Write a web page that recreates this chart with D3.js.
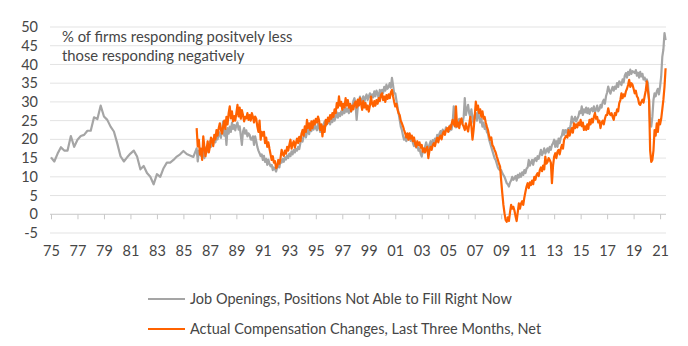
<!DOCTYPE html>
<html>
<head>
<meta charset="utf-8">
<script src="https://cdn.jsdelivr.net/npm/d3@7"></script>
<style>
  body { margin: 0; background: #fff; }
  svg text { font-family: Lato, "Noto Sans", sans-serif; fill: #464646; }
</style>
</head>
<body>
<div id="chart"></div>
<script>
// gray series, quarterly 1975-1985 (Q1..Q4 per row)
var jobOpeningsQuarterly = [
  15.2, 14.1, 16.2, 17.9,
  17.0, 17.0, 20.9, 18.0,
  19.9, 20.9, 21.2, 22.3,
  22.3, 25.9, 25.4, 29.0,
  26.1, 25.2, 23.4, 22.1,
  19.0, 15.5, 14.1, 15.2,
  16.2, 17.0, 15.4, 12.0,
  12.9, 11.0, 10.0, 8.0,
  10.7, 10.0, 12.3, 13.8,
  13.8, 14.5, 15.4, 16.0,
  16.9, 16.1, 15.7, 15.3
];

// gray series, monthly from Jan 1986 (one row per year)
var jobOpeningsMonthly = [
  17.6, 14.1, 17.0, 16.0, 15.6, 17.5, 16.2, 15.0, 17.8, 16.5, 18.4, 17.2, // 86
  19.5, 18.0, 19.9, 18.6, 20.5, 19.2, 21.2, 20.0, 22.0, 21.2, 20.4, 22.5, // 87
  24.8, 21.0, 22.6, 18.5, 23.0, 21.5, 23.4, 22.0, 24.5, 22.8, 23.8, 22.4, // 88
  23.8, 24.5, 22.6, 23.5, 21.0, 18.5, 22.1, 23.0, 21.5, 22.4, 20.8, 21.6, // 89
  21.2, 20.0, 19.9, 20.8, 18.5, 20.8, 19.5, 18.0, 17.0, 16.3, 15.5, 16.0, // 90
  14.5, 15.6, 14.0, 14.8, 13.2, 14.6, 13.5, 12.8, 13.2, 11.8, 12.5, 12.0, // 91
  11.4, 12.5, 13.2, 12.5, 14.5, 13.8, 14.8, 14.0, 15.2, 14.6, 15.7, 15.0, // 92
  16.2, 15.5, 16.8, 16.0, 17.2, 16.5, 17.5, 17.0, 18.0, 17.4, 19.0, 20.2, // 93
  19.4, 21.0, 22.1, 20.5, 21.8, 22.6, 21.4, 23.0, 22.2, 23.5, 22.6, 24.0, // 94
  23.0, 22.4, 24.2, 23.2, 22.0, 23.8, 22.5, 24.0, 24.8, 23.6, 25.0, 24.3, // 95
  25.2, 24.0, 25.8, 24.6, 26.5, 25.0, 26.0, 27.2, 25.8, 27.0, 26.2, 27.5, // 96
  26.6, 28.0, 27.0, 28.5, 27.4, 28.2, 27.0, 29.0, 27.4, 28.6, 30.2, 31.0, // 97
  29.2, 25.2, 28.5, 30.0, 31.4, 29.5, 30.6, 31.5, 30.0, 31.2, 32.0, 30.5, // 98
  31.5, 32.3, 30.8, 32.0, 31.2, 32.8, 31.5, 33.0, 32.2, 31.0, 33.2, 32.0, // 99
  33.2, 32.4, 34.0, 33.0, 34.6, 33.5, 34.0, 35.0, 33.8, 36.4, 34.5, 32.3, // 00
  32.3, 30.5, 28.8, 27.0, 25.2, 23.4, 22.5, 21.0, 19.9, 20.5, 19.5, 20.8, // 01
  20.0, 21.2, 19.6, 20.8, 19.0, 18.2, 19.5, 17.8, 18.6, 17.0, 17.5, 16.2, // 02
  15.4, 17.2, 16.5, 18.0, 19.2, 18.0, 17.5, 18.6, 19.5, 18.2, 19.8, 19.0, // 03
  20.2, 19.5, 21.2, 20.0, 21.5, 22.2, 21.0, 22.6, 21.8, 22.0, 23.2, 22.4, // 04
  23.0, 22.2, 23.8, 22.6, 24.5, 28.8, 24.0, 23.2, 25.0, 24.2, 25.5, 24.0, // 05
  25.2, 24.4, 26.0, 31.0, 26.5, 28.0, 29.2, 27.0, 26.0, 28.0, 25.5, 24.3, // 06
  26.5, 27.0, 25.0, 27.5, 26.0, 24.5, 25.5, 23.4, 24.5, 22.8, 23.5, 22.0, // 07
  21.5, 20.0, 19.0, 18.0, 17.0, 16.0, 15.0, 14.5, 13.5, 12.5, 12.0, 11.8, // 08
  11.8, 11.0, 10.5, 10.0, 9.2, 8.3, 8.0, 7.4, 8.5, 9.0, 10.0, 9.2,       // 09
  9.6, 10.2, 9.0, 10.5, 9.8, 10.9, 10.0, 11.2, 10.5, 11.8, 11.0, 12.2,   // 10
  12.5, 14.5, 13.0, 13.8, 14.5, 13.2, 14.6, 15.0, 14.2, 15.5, 14.8, 16.0, // 11
  17.2, 15.8, 16.5, 17.6, 16.2, 17.0, 17.6, 16.5, 18.0, 17.2, 18.5, 19.0, // 12
  19.9, 18.0, 19.5, 18.0, 20.2, 19.0, 20.5, 21.0, 22.5, 21.2, 22.5, 21.8, // 13
  22.5, 23.0, 22.2, 24.0, 26.1, 24.5, 25.2, 26.0, 24.8, 25.5, 26.2, 27.5, // 14
  27.0, 28.8, 26.5, 28.0, 27.2, 28.5, 27.0, 28.3, 26.8, 28.0, 28.3, 27.5, // 15
  28.8, 27.2, 28.0, 29.0, 27.5, 28.0, 29.2, 28.5, 30.0, 30.6, 29.5, 31.5, // 16
  32.5, 34.1, 33.0, 32.2, 33.2, 34.0, 33.0, 34.1, 33.5, 35.0, 34.0, 35.5, // 17
  35.0, 34.5, 36.0, 35.2, 37.0, 37.7, 36.5, 38.0, 37.2, 38.6, 37.5, 38.2, // 18
  38.0, 37.7, 38.5, 37.0, 37.8, 36.5, 38.0, 36.8, 37.5, 36.0, 36.5, 35.5, // 19
  36.0, 35.0, 30.6, 24.0, 23.4, 26.0, 30.5, 32.3, 31.5, 32.8, 33.5, 32.0, // 20
  34.1, 36.8, 42.0, 44.0, 48.4, 46.5                                      // 21
];

// orange series, monthly from Jan 1986
var compensationMonthly = [
  23.0, 18.1, 19.9, 16.0, 17.5, 14.5, 20.8, 18.0, 15.5, 17.2, 19.5, 16.5, // 86
  18.0, 20.5, 19.9, 18.2, 21.2, 20.0, 22.5, 21.0, 23.0, 24.3, 22.5, 21.5, // 87
  23.5, 25.0, 22.8, 26.0, 24.0, 27.0, 28.8, 25.6, 27.5, 24.8, 26.2, 25.0, // 88
  27.0, 29.2, 26.1, 28.5, 25.5, 27.8, 26.5, 24.8, 26.0, 25.6, 27.0, 25.2, // 89
  26.5, 25.0, 27.0, 26.0, 24.5, 26.1, 25.5, 23.4, 22.0, 25.0, 19.9, 22.0, // 90
  21.0, 22.0, 19.0, 20.5, 18.0, 19.2, 17.5, 16.0, 14.5, 15.5, 13.8, 14.2, // 91
  12.3, 12.8, 14.5, 13.5, 15.0, 17.2, 16.0, 15.6, 17.0, 16.2, 18.0, 17.0, // 92
  18.5, 19.9, 17.5, 18.8, 19.5, 17.8, 19.0, 20.2, 19.0, 20.7, 19.5, 21.5, // 93
  22.5, 21.0, 23.5, 22.0, 25.2, 23.0, 24.3, 22.5, 24.8, 23.0, 25.0, 24.0, // 94
  25.5, 24.5, 26.1, 25.0, 22.5, 24.0, 20.8, 23.5, 22.0, 25.2, 24.0, 25.8, // 95
  24.8, 26.5, 25.5, 27.0, 26.0, 28.0, 27.0, 29.7, 28.5, 31.5, 29.0, 30.0, // 96
  27.9, 29.5, 28.5, 31.0, 29.0, 30.5, 28.5, 29.5, 27.5, 29.0, 28.0, 29.5, // 97
  30.1, 28.5, 30.6, 29.0, 31.0, 29.5, 27.9, 30.2, 28.5, 29.7, 28.0, 29.0, // 98
  27.4, 29.0, 31.4, 29.5, 28.8, 30.2, 29.0, 30.5, 29.5, 31.0, 30.2, 31.8, // 99
  32.3, 30.5, 31.4, 30.0, 31.8, 30.8, 32.0, 31.0, 32.5, 33.2, 31.5, 30.0, // 00
  28.8, 29.5, 28.0, 27.0, 26.5, 25.0, 24.3, 23.5, 22.5, 21.6, 20.5, 21.6, // 01
  19.9, 21.6, 20.2, 21.0, 19.5, 20.5, 18.8, 18.0, 19.5, 18.5, 19.2, 17.8, // 02
  18.5, 16.7, 17.6, 16.5, 17.5, 18.0, 15.0, 17.0, 18.0, 17.2, 18.5, 19.0, // 03
  18.2, 19.5, 20.4, 19.2, 20.5, 21.0, 20.0, 21.5, 22.1, 21.2, 22.5, 23.0, // 04
  22.0, 23.5, 22.8, 24.0, 25.2, 24.2, 23.5, 28.8, 23.4, 24.5, 23.0, 25.0, // 05
  25.6, 24.0, 23.4, 22.5, 24.3, 23.0, 22.1, 24.0, 26.0, 23.5, 19.9, 22.5, // 06
  26.0, 30.1, 27.9, 29.0, 27.0, 28.0, 26.0, 27.5, 25.5, 26.0, 24.5, 23.4, // 07
  22.5, 21.0, 19.9, 20.5, 18.5, 18.0, 17.2, 16.5, 15.4, 14.5, 13.5, 12.7, // 08
  9.0, 5.6, 2.5, 0.3, -1.5, -2.0, -0.8, -1.8, 0.5, 2.5, 1.5, 2.0,        // 09
  1.0, -0.5, -1.8, 0.5, 2.9, 1.5, 2.9, 3.5, 2.5, 4.5, 6.0, 7.4,          // 10
  8.3, 7.0, 8.5, 7.8, 9.0, 8.0, 10.0, 9.2, 10.5, 11.0, 10.2, 11.8,       // 11
  12.5, 11.5, 13.0, 12.0, 15.4, 13.5, 14.0, 15.0, 14.5, 13.8, 8.3, 13.0, // 12
  15.4, 16.3, 15.0, 16.7, 17.2, 16.0, 17.5, 18.5, 17.5, 19.9, 20.5, 21.0, // 13
  20.5, 22.5, 21.0, 22.0, 23.0, 21.8, 24.3, 23.0, 24.0, 23.2, 24.5, 23.8, // 14
  25.2, 23.5, 24.5, 22.5, 23.5, 22.5, 24.0, 22.8, 25.2, 24.0, 25.5, 24.5, // 15
  26.0, 27.0, 25.5, 26.0, 24.5, 25.0, 23.0, 24.5, 25.0, 24.0, 25.5, 26.5, // 16
  26.5, 28.3, 27.0, 26.5, 27.0, 26.0, 25.2, 27.0, 26.5, 28.0, 27.5, 29.7, // 17
  30.5, 32.3, 31.0, 32.0, 31.5, 32.8, 33.5, 34.5, 35.9, 34.0, 35.0, 34.6, // 18
  33.5, 32.3, 33.0, 31.5, 31.0, 29.5, 29.2, 30.0, 30.6, 29.8, 31.5, 33.0, // 19
  35.5, 33.0, 30.6, 17.0, 14.0, 14.5, 17.0, 22.5, 21.0, 24.3, 22.0, 25.2, // 20
  24.0, 25.5, 28.0, 30.6, 34.0, 39.0                                      // 21
];

var yTicks = [-5, 0, 5, 10, 15, 20, 25, 30, 35, 40, 45, 50];
var xTickYears = d3.range(1975, 2022, 2);
var titleLines = ['% of firms responding positvely less', 'those responding negatively'];
var seriesNames = ['Job Openings, Positions Not Able to Fill Right Now', 'Actual Compensation Changes, Last Three Months, Net'];
var seriesColors = ['#a5a5a5', '#ff6200'];

var w = 688;
var h = 346;

// build {t, v} points (t = decimal year)
var jobData = jobOpeningsQuarterly.map(function(v, i) {
  return { t: 1975 + i / 4, v: v };
}).concat(jobOpeningsMonthly.map(function(v, i) {
  return { t: 1986 + i / 12, v: v };
}));

var compData = compensationMonthly.map(function(v, i) {
  return { t: 1986 + i / 12, v: v };
});

// scales
var x = d3.scaleLinear()
  .domain([1975, 2021.5])
  .range([51, 666.7]);

var y = d3.scaleLinear()
  .domain([-5, 50])
  .range([233, 27]);

var svg = d3.select('#chart')
  .append('svg')
    .attr('width', w)
    .attr('height', h);

// horizontal gridlines (0 is drawn as the axis below)
svg.append('g')
  .selectAll('line')
  .data(yTicks.filter(function(d) { return d !== 0; }))
  .enter()
  .append('line')
    .attr('x1', 50)
    .attr('x2', 666)
    .attr('y1', function(d) { return y(d); })
    .attr('y2', function(d) { return y(d); })
    .attr('stroke', '#e3e3e3')
    .attr('stroke-width', 1);

// y labels
svg.append('g')
  .selectAll('text')
  .data(yTicks)
  .enter()
  .append('text')
    .attr('x', 38)
    .attr('y', function(d) { return y(d); })
    .attr('dy', '0.35em')
    .attr('text-anchor', 'end')
    .style('font-size', '14.5px')
    .text(function(d) { return d; });

// x axis on the zero line
var xAxis = d3.axisBottom(x)
  .tickValues(xTickYears)
  .tickSize(5)
  .tickSizeOuter(0)
  .tickPadding(26)
  .tickFormat(function(d) { return d3.format('02d')(d % 100); });

var xAxisG = svg.append('g')
  .attr('transform', 'translate(0,' + y(0) + ')')
  .call(xAxis);

xAxisG.select('.domain')
  .attr('d', 'M50,0H666')
  .attr('stroke', '#c8c8c8');
xAxisG.selectAll('.tick line').attr('stroke', '#c8c8c8');
xAxisG.selectAll('.tick text')
  .style('font-size', '14.5px')
  .style('font-family', 'Lato, "Noto Sans", sans-serif')
  .attr('fill', '#464646');

// lines
var line = d3.line()
  .x(function(d) { return x(d.t); })
  .y(function(d) { return y(d.v); });

svg.append('path')
  .datum(jobData)
  .attr('d', line)
  .attr('fill', 'none')
  .attr('stroke', seriesColors[0])
  .attr('stroke-width', 2.2)
  .attr('stroke-linejoin', 'round');

svg.append('path')
  .datum(compData)
  .attr('d', line)
  .attr('fill', 'none')
  .attr('stroke', seriesColors[1])
  .attr('stroke-width', 2.2)
  .attr('stroke-linejoin', 'round');

// subtitle inside the plot
svg.append('g')
  .selectAll('text')
  .data(titleLines)
  .enter()
  .append('text')
    .attr('x', 62)
    .attr('y', function(d, i) { return 42 + i * 18.5; })
    .style('font-size', '14.8px')
    .text(function(d) { return d; });

// legend
var legend = svg.selectAll('.legend-item')
  .data(seriesNames)
  .enter()
  .append('g')
    .attr('class', 'legend-item')
    .attr('transform', function(d, i) { return 'translate(0,' + (299 + i * 30) + ')'; });

legend.append('line')
  .attr('x1', 148)
  .attr('x2', 185)
  .attr('stroke', function(d, i) { return seriesColors[i]; })
  .attr('stroke-width', 2);

legend.append('text')
  .attr('x', 190)
  .attr('dy', '0.35em')
  .style('font-size', '14.5px')
  .text(function(d) { return d; });
</script>
</body>
</html>
